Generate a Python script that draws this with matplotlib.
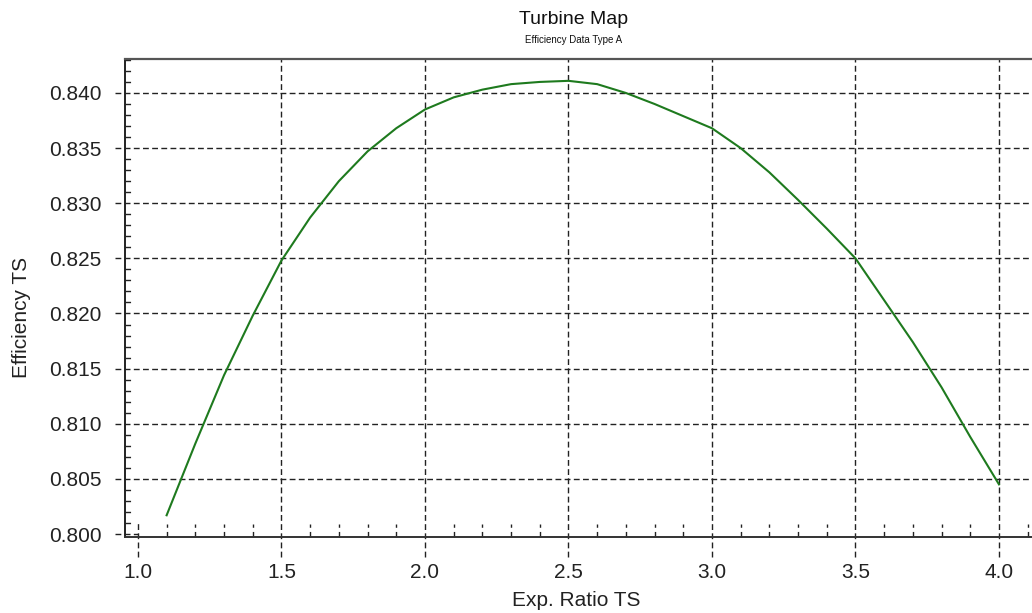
import matplotlib
matplotlib.use("Agg")
import matplotlib.pyplot as plt
import matplotlib.transforms as mtransforms
from matplotlib.ticker import MultipleLocator, FormatStrFormatter
import numpy as np

plt.rcParams['font.family'] = ['Liberation Sans', 'DejaVu Sans']

# Data
exp_ratio = [1.1, 1.2, 1.3, 1.4, 1.5, 1.6, 1.7, 1.8, 1.9, 2.0,
             2.1, 2.2, 2.3, 2.4, 2.5, 2.6, 2.7, 2.8, 2.9, 3.0,
             3.1, 3.2, 3.3, 3.4, 3.5, 3.6, 3.7, 3.8, 3.9, 4.0]
efficiency = [0.8017, 0.8082, 0.8144, 0.8198, 0.8248, 0.8287, 0.8320, 0.8347, 0.8368, 0.8385,
              0.8396, 0.8403, 0.8408, 0.8410, 0.8411, 0.8408, 0.8400, 0.8390, 0.8379, 0.8368,
              0.8350, 0.8328, 0.8303, 0.8277, 0.8250, 0.8212, 0.8174, 0.8133, 0.8088, 0.8045]

title = "Turbine Map"
subtitle = "Efficiency Data Type A"
xlabel = "Exp. Ratio TS"
ylabel = "Efficiency TS"

W, H = 1032, 613
fig = plt.figure(figsize=(W / 100, H / 100), dpi=100)
ax = fig.add_axes([125 / W, (H - 537) / H, 1 - 125 / W, (537 - 59) / H])

ax.set_xlim(0.955, 4.115)
ax.set_ylim(0.79973, 0.84308)
ax.xaxis.set_major_locator(MultipleLocator(0.5))
ax.xaxis.set_minor_locator(MultipleLocator(0.1))
ax.yaxis.set_major_locator(MultipleLocator(0.005))
ax.yaxis.set_minor_locator(MultipleLocator(0.001))
ax.xaxis.set_major_formatter(FormatStrFormatter('%.1f'))
ax.yaxis.set_major_formatter(FormatStrFormatter('%.3f'))

ax.tick_params(which='both', length=0)
ax.tick_params(axis='x', which='major', pad=19, labelsize=15, labelcolor='#222222')
ax.tick_params(axis='y', which='major', pad=17, labelsize=15, labelcolor='#222222')

ax.spines['right'].set_visible(False)
ax.spines['top'].set_color('#555555')
ax.spines['top'].set_linewidth(1.6)
ax.spines['left'].set_color('#222222')
ax.spines['left'].set_linewidth(1.4)
ax.spines['bottom'].set_color('#333333')
ax.spines['bottom'].set_linewidth(1.4)

dash = (0, (4.2, 2.4))
gkw = dict(color='#222222', lw=1.0, linestyle=dash, clip_on=False, zorder=1)

xlo, xhi = ax.get_xlim()
ylo, yhi = ax.get_ylim()
tx = mtransforms.blended_transform_factory(ax.transData, ax.transAxes)
ty = mtransforms.blended_transform_factory(ax.transAxes, ax.transData)

ax_h_px = 537 - 59
ax_w_px = W - 125

xmaj = [v for v in ax.get_xticks() if xlo < v < xhi]
ymaj = [v for v in ax.get_yticks() if ylo < v < yhi]

# major vertical grid lines (extend below the axis); first one only a stub
for i, xv in enumerate(xmaj):
    top = 15 / ax_h_px if i == 0 else 1
    ax.plot([xv, xv], [-20 / ax_h_px, top], transform=tx, **gkw)
# major horizontal grid lines (extend left of the axis); first one only a stub
for i, yv in enumerate(ymaj):
    right = 13 / ax_w_px if i == 0 else 1
    ax.plot([-10 / ax_w_px, right], [yv, yv], transform=ty, **gkw)

# dashed minor ticks inside
mkw = dict(color='#222222', lw=1.0, linestyle=(0, (4, 3)), clip_on=False, zorder=1)
for xv in ax.xaxis.get_minorticklocs():
    if xlo < xv < xhi and abs(round(xv / 0.5) * 0.5 - xv) > 1e-6:
        ax.plot([xv, xv], [0, 13 / ax_h_px], transform=tx, **mkw)
for yv in ax.yaxis.get_minorticklocs():
    if ylo < yv < yhi and abs(round(yv / 0.005) * 0.005 - yv) > 1e-7:
        ax.plot([0, 9 / ax_w_px], [yv, yv], transform=ty, **mkw)

ax.plot(exp_ratio, efficiency, color='#1e7a1e', lw=1.5, zorder=3)

fig.text(574 / W, 1 - 19 / H, title, ha='center', va='center', fontsize=14, color='#111111')
fig.text(574 / W, 1 - 40 / H, subtitle, ha='center', va='center', fontsize=7, color='#111111')
fig.text(576 / W, 1 - 600 / H, xlabel, ha='center', va='center', fontsize=15, color='#222222')
fig.text(22 / W, 1 - 317 / H, ylabel, ha='center', va='center', rotation=90, fontsize=15, color='#222222')

fig.savefig("out.png", dpi=100)
